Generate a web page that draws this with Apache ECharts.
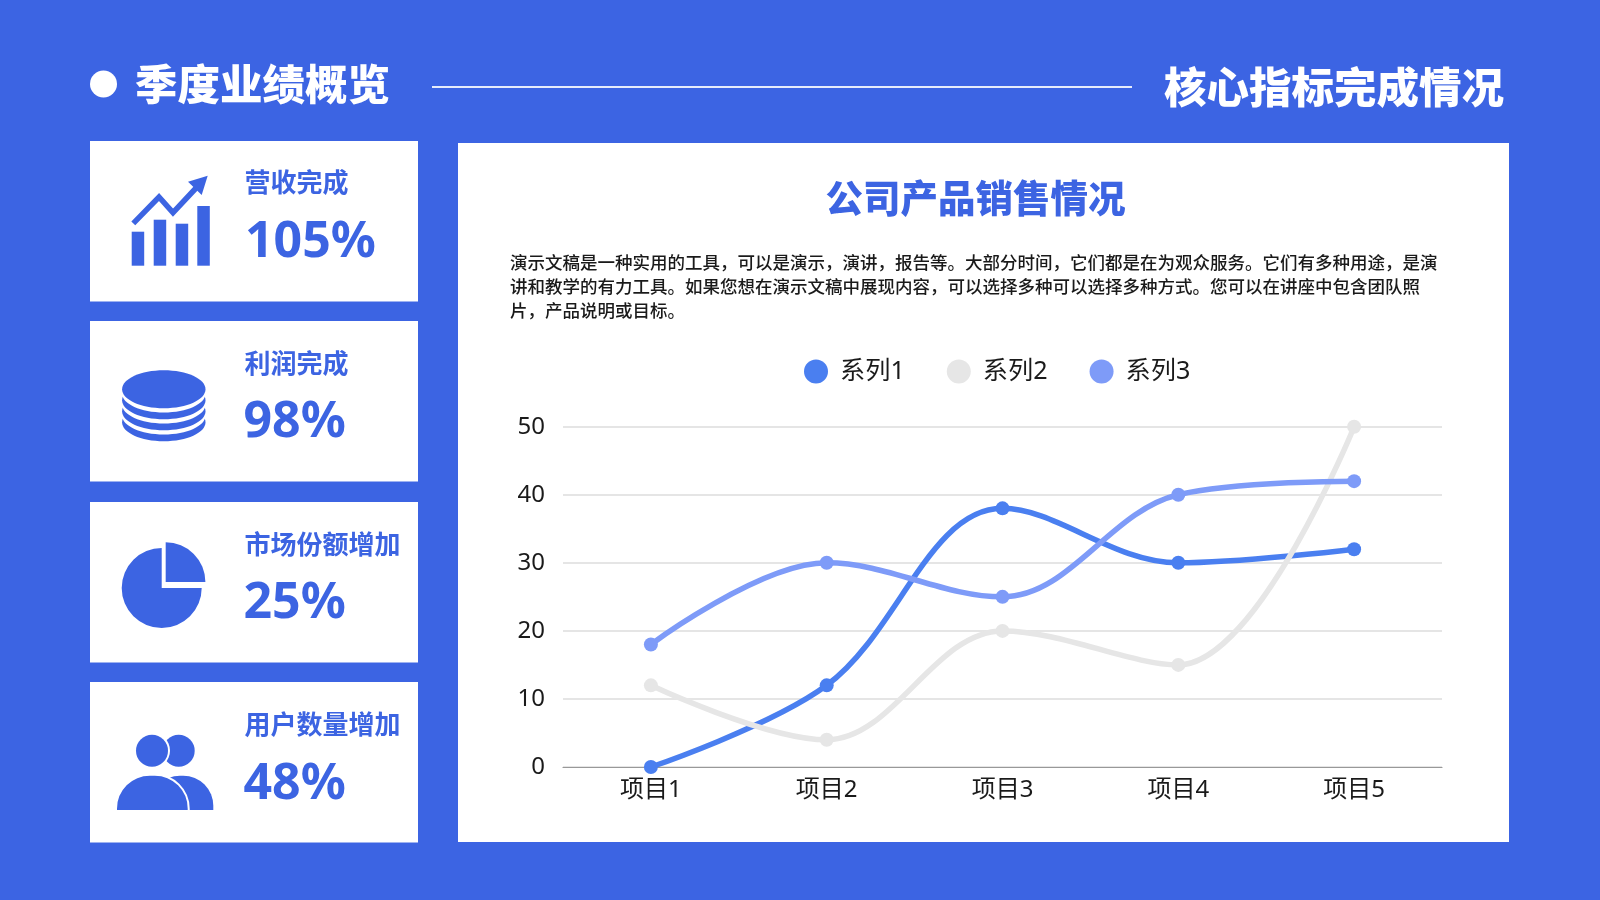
<!DOCTYPE html>
<html><head><meta charset="utf-8">
<style>html,body{margin:0;padding:0;background:#3c64e3}#c{width:1600px;height:900px}</style>
<script src="https://cdn.jsdelivr.net/npm/echarts@6/dist/echarts.min.js"></script>
</head><body><div id="c"></div>
<script>
const categories = ['项目1','项目2','项目3','项目4','项目5'];
const series1 = [0,12,38,30,32];
const series2 = [12,4,20,15,50];
const series3 = [18,30,25,40,42];
const seriesNames = ['系列1','系列2','系列3'];
const yTicks = {min:0,max:50,interval:10};
const kpiLabels = ['营收完成','利润完成','市场份额增加','用户数量增加'];
const kpiValues = ['105%','98%','25%','48%'];
const descLines = [
 '演示文稿是一种实用的工具，可以是演示，演讲，报告等。大部分时间，它们都是在为观众服务。它们有多种用途，是演',
 '讲和教学的有力工具。如果您想在演示文稿中展现内容，可以选择多种可以选择多种方式。您可以在讲座中包含团队照',
 '片，产品说明或目标。'];

const BG='#3c64e3', BLUE='#3c64e2', W='#ffffff';
const CN='"Noto Sans CJK SC","Noto Sans",sans-serif';
const NUM='"Noto Sans","Noto Sans CJK SC",sans-serif';
const txt=(text,x,y,font,fill,align)=>({type:'text',x,y,style:{text,font,fill,align:align||'left',verticalAlign:'middle'}});
const rect=(x,y,w,h,fill,r)=>({type:'rect',shape:{x,y,width:w,height:h,r:r||0},style:{fill}});
const circ=(cx,cy,r,fill)=>({type:'circle',shape:{cx,cy,r},style:{fill}});
const ell=(cx,cy,rx,ry,fill)=>({type:'ellipse',shape:{cx,cy,rx,ry},style:{fill}});

const gfx=[];
gfx.push(circ(103.5,84,13.5,W));
gfx.push(txt('季度业绩概览',135,83.5,'900 42.5px '+CN,W));
gfx.push(rect(432,86,700,2,'#e6ecfb'));
gfx.push(txt('核心指标完成情况',1504,87,'900 42.5px '+CN,W,'right'));
const cardTops=[141,321,502,682];
const labelY=[182.5,363.5,544,724.5], valueY=[243,423,604,785];
cardTops.forEach((t,i)=>{
  gfx.push(rect(90,t,328,160.5,W));
  gfx.push(txt(kpiLabels[i],244.5,labelY[i],'bold 26px '+CN,BLUE));
  gfx.push(txt(kpiValues[i],i==0?245:243.5,valueY[i],'bold 50px '+NUM,BLUE));
});
gfx.push(rect(458,143,1051,699,W));
[[131.7,231.7],[153.7,219.7],[175.7,223.7],[197.3,206]].forEach(b=>gfx.push(rect(b[0],b[1],12.5,265.7-b[1],BLUE)));
gfx.push({type:'polyline',shape:{points:[[133.3,223.3],[159,197],[173,212.7],[197,187]]},style:{stroke:BLUE,lineWidth:5.5,fill:null}});
gfx.push({type:'polygon',shape:{points:[[207.7,175.7],[188,181.7],[201.7,195]]},style:{fill:BLUE}});
const cy=389.2,cx=163.8,rx=41.7,ry=19;
[[33,BLUE],[26.3,W],[22,BLUE],[15.3,W],[11,BLUE],[4.3,W],[0,BLUE]].forEach(o=>gfx.push(ell(cx,cy+o[0],rx,ry,o[1])));
gfx.push({type:'sector',shape:{cx:161.7,cy:588,r:40,r0:0,startAngle:0,endAngle:Math.PI*1.5,clockwise:true},style:{fill:BLUE}});
gfx.push({type:'sector',shape:{cx:165.7,cy:582,r:39.7,r0:0,startAngle:Math.PI*1.5,endAngle:Math.PI*2,clockwise:true},style:{fill:BLUE}});
gfx.push(circ(178.7,750.7,16,BLUE));
gfx.push(rect(150,775.7,63.3,34.3,BLUE,[30,30,0,0]));
gfx.push(circ(152,750.7,18,W));
gfx.push(circ(152,750.7,16,BLUE));
gfx.push({type:'rect',shape:{x:116,y:774.7,width:72.7,height:36.3,r:[34,34,0,0]},style:{fill:BLUE,stroke:W,lineWidth:2}});
gfx.push(txt('公司产品销售情况',975.5,198,'900 37.5px '+CN,BLUE,'center'));
descLines.forEach((l,i)=>gfx.push(txt(l,510,[262,286.5,310.5][i],'500 17.5px '+CN,'#1a1a1a')));

const mk=(name,data,color,w)=>({name,type:'line',data,smooth:0.36,symbol:'circle',symbolSize:14,showSymbol:true,
  itemStyle:{color},lineStyle:{color,width:w,cap:'round'},z:3});
const chart=echarts.init(document.getElementById('c'),null,{renderer:'canvas'});
chart.setOption({
  backgroundColor:BG,animation:false,
  graphic:{elements:gfx.map(e=>Object.assign({z:-1,silent:true},e))},
  legend:{left:799,top:354,itemWidth:24,itemHeight:24,itemGap:42,icon:'circle',
    textStyle:{fontSize:25.2,fontFamily:NUM,color:'#1a1a1a',padding:[0,0,0,7]},
    data:seriesNames,z:5},
  grid:{left:563,top:426.7,width:879,height:340.3,containLabel:false},
  xAxis:{type:'category',data:categories,boundaryGap:true,z:2,
    axisLine:{lineStyle:{color:'#999',width:1.2}},axisTick:{show:false},
    axisLabel:{fontSize:24,fontFamily:NUM,color:'#1a1a1a',margin:11}},
  yAxis:{type:'value',min:yTicks.min,max:yTicks.max,interval:yTicks.interval,z:2,
    axisLine:{show:false},axisTick:{show:false},
    splitLine:{lineStyle:{color:'#dcdcdc',width:1.5}},
    axisLabel:{fontSize:24,fontFamily:NUM,color:'#1a1a1a',margin:18}},
  series:[mk(seriesNames[0],series1,'#4a7ff0',5.5),mk(seriesNames[1],series2,'#e6e6e6',5.5),mk(seriesNames[2],series3,'#7e9bf8',5.5)]
});
</script></body></html>
